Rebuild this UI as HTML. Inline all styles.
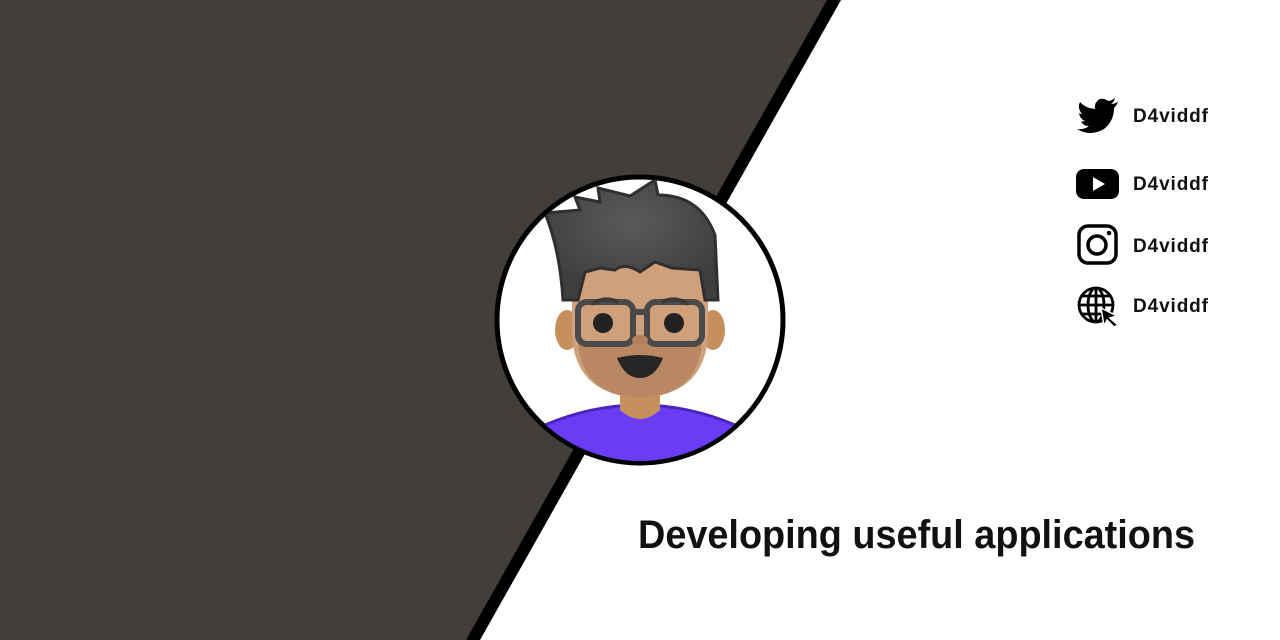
<!DOCTYPE html>
<html><head><meta charset="utf-8"><style>
html,body{margin:0;padding:0;background:#fff;}
svg{display:block}
text{font-family:"Liberation Sans",sans-serif;font-weight:bold;fill:#111}
</style></head><body>
<svg width="1280" height="640" viewBox="0 0 1280 640" xmlns="http://www.w3.org/2000/svg">
<rect width="1280" height="640" fill="#fff"/>
<polygon points="0,0 828,0 467,640 0,640" fill="#423e39"/>
<polygon points="827,0 841,0 480,640 466,640" fill="#000"/>
<defs>
<clipPath id="c"><circle cx="640" cy="320" r="141"/></clipPath>
<radialGradient id="h" cx="0.5" cy="0.35" r="0.6"><stop offset="0" stop-color="#5a5a5a"/><stop offset="1" stop-color="#3e3e3e"/></radialGradient>
</defs>
<circle cx="640" cy="320" r="143" fill="#fff" stroke="#000" stroke-width="5"/>
<g clip-path="url(#c)">
<path d="M545,425 Q640,385 735,425 L750,480 L530,480 Z" fill="#6a3cf5" stroke="#4a25c0" stroke-width="3"/>
<path d="M620,380 L660,380 L660,410 Q640,428 620,410 Z" fill="#c58f5e"/>
<ellipse cx="567" cy="330" rx="12" ry="20" fill="#c58f5e"/>
<ellipse cx="713" cy="330" rx="12" ry="20" fill="#c58f5e"/>
<path d="M572,270 Q572,245 640,245 Q708,245 708,270 L708,335 Q705,395 640,398 Q575,395 572,335 Z" fill="#d0a07a"/>
<path d="M578,340 Q600,350 640,342 Q680,350 702,340 Q700,395 640,398 Q580,395 578,340 Z" fill="#b98761"/>
<path d="M545,213 L580,210 L575,197 L600,202 L598,188 L630,196 L655,180 L658,195 Q700,195 715,235 L718,300 L705,300 L700,270 L672,268 L655,262 L640,272 Q625,262 615,270 L600,268 L585,272 L578,300 L563,300 Q560,250 545,213 Z" fill="url(#h)" stroke="#2f2f2f" stroke-width="3"/>
<rect x="578" y="302" width="55" height="42" rx="9" fill="none" stroke="#4a4a4a" stroke-width="6"/>
<rect x="647" y="302" width="55" height="42" rx="9" fill="none" stroke="#4a4a4a" stroke-width="6"/>
<line x1="633" y1="312" x2="647" y2="312" stroke="#4a4a4a" stroke-width="6"/>
<path d="M592,304 Q605,296 618,302" stroke="#3a3a3a" stroke-width="4" fill="none"/>
<path d="M662,302 Q675,296 688,304" stroke="#3a3a3a" stroke-width="4" fill="none"/>
<circle cx="603" cy="323" r="10" fill="#222"/>
<circle cx="674" cy="323" r="10" fill="#222"/>
<ellipse cx="640" cy="340" rx="8" ry="5" fill="#b57e5a"/>
<path d="M617,358 Q640,352 663,358 Q655,378 640,378 Q625,378 617,358 Z" fill="#262626"/>
</g>
<path d="M1118,102 Q1114,104 1111,104 Q1114,102 1115,98 Q1111,101 1108,101 Q1104,98 1100,99 Q1094,102 1095,109 Q1085,108 1080,102 Q1077,108 1082,114 Q1080,114 1079,113 Q1080,119 1085,121 Q1083,122 1081,121 Q1083,126 1089,126 Q1084,130 1077,129 Q1090,137 1104,129 Q1114,121 1114,108 Q1117,105 1118,102 Z" fill="#000"/>
<text x="1133" y="122" font-size="19" textLength="75">D4viddf</text>
<rect x="1076" y="169" width="43" height="30" rx="8" fill="#000"/>
<polygon points="1093,177 1093,191 1105,184" fill="#fff"/>
<text x="1133" y="190" font-size="19" textLength="75">D4viddf</text>
<rect x="1079" y="226" width="37" height="37" rx="9" fill="none" stroke="#000" stroke-width="3.5"/>
<circle cx="1097" cy="245" r="9" fill="none" stroke="#000" stroke-width="3.5"/>
<circle cx="1109" cy="233" r="2.3" fill="#000"/>
<text x="1133" y="252" font-size="19" textLength="75">D4viddf</text>
<g fill="none" stroke="#000" stroke-width="2.8">
<circle cx="1096" cy="305" r="17"/>
<ellipse cx="1096" cy="305" rx="8" ry="17"/>
<line x1="1096" y1="288" x2="1096" y2="322"/>
<line x1="1079" y1="305" x2="1113" y2="305"/>
<line x1="1082" y1="296" x2="1110" y2="296"/>
<line x1="1082" y1="314" x2="1110" y2="314"/>
</g>
<polygon points="1101,308 1117,316 1110,318 1118,325 1114,327 1107,320 1104,326" fill="#000" stroke="#fff" stroke-width="1.5"/>
<text x="1133" y="312" font-size="19" textLength="75">D4viddf</text>
<text x="638" y="548" font-size="40" textLength="557" lengthAdjust="spacingAndGlyphs">Developing useful applications</text>
</svg>
</body></html>
